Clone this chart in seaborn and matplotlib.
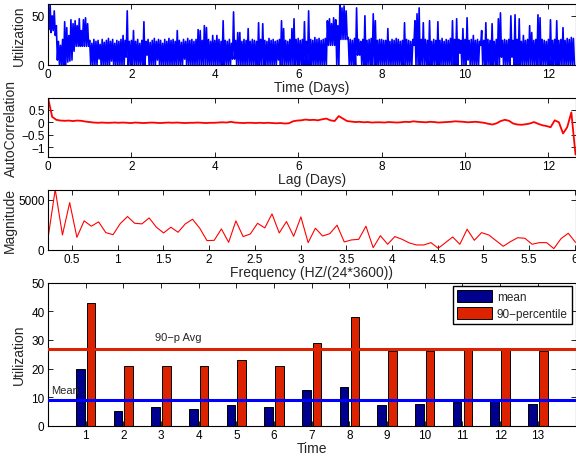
import numpy as np
import pandas as pd
import matplotlib
matplotlib.use('Agg')
import matplotlib.pyplot as plt
import seaborn as sns

# utilization trace: peak / floor reading per 0.05-day column
util_peak = [58, 62, 50, 55, 40, 24, 20, 26, 44, 38, 30, 46, 42, 45, 40, 47, 35, 46, 48, 42,
             25, 22, 26, 24, 25, 21, 26, 23, 25, 27, 24, 26, 22, 25, 24, 26, 30, 25, 55, 24,
             25, 35, 24, 26, 22, 25, 44, 24, 26, 23, 25, 27, 24, 26, 25, 22, 26, 24, 27, 25,
             26, 24, 35, 25, 23, 26, 24, 27, 25, 26, 24, 26, 36, 35, 25, 40, 38, 26, 24, 30,
             25, 30, 26, 24, 45, 25, 24, 26, 22, 54, 25, 33, 33, 24, 26, 25, 37, 24, 26, 25,
             24, 43, 26, 42, 25, 24, 27, 25, 26, 24, 25, 26, 45, 37, 25, 24, 26, 37, 47, 26,
             27, 25, 26, 44, 24, 55, 26, 25, 28, 26, 27, 25, 26, 27, 45, 47, 42, 48, 46, 40,
             62, 58, 60, 55, 28, 26, 25, 27, 58, 26, 24, 26, 50, 25, 26, 27, 52, 45, 25, 26,
             26, 25, 25, 37, 24, 26, 25, 27, 26, 24, 25, 43, 26, 25, 24, 26, 45, 52, 58, 26,
             43, 26, 25, 45, 24, 26, 25, 44, 25, 27, 24, 26, 25, 27, 45, 26, 47, 26, 25, 37,
             26, 48, 25, 26, 30, 25, 26, 24, 35, 25, 43, 26, 25, 42, 24, 26, 47, 53, 25, 26,
             25, 26, 50, 25, 51, 26, 47, 24, 30, 25, 26, 40, 33, 25, 26, 51, 48, 26, 25, 24,
             26, 46, 25, 26, 45, 25, 26, 38, 25, 27, 26, 28, 27]
util_floor = [36, 33, 35, 30, 5, 0, 0, 0, 0, 3, 4, 5, 14, 19, 19, 19, 19, 19, 19, 19,
              0, 0, 0, 0, 6, 0, 0, 0, 0, 0, 4, 0, 0, 0, 0, 0, 0, 8, 0, 0,
              0, 0, 0, 0, 0, 0, 0, 10, 0, 0, 0, 0, 5, 0, 0, 0, 0, 0, 0, 0,
              0, 0, 0, 0, 0, 6, 0, 0, 0, 0, 0, 0, 0, 0, 0, 0, 0, 0, 0, 0,
              0, 0, 0, 0, 0, 0, 0, 0, 6, 6, 0, 0, 0, 0, 0, 0, 0, 0, 0, 0,
              0, 0, 0, 0, 0, 0, 0, 0, 0, 0, 5, 0, 0, 0, 0, 0, 0, 0, 0, 0,
              0, 0, 0, 0, 0, 0, 0, 0, 0, 0, 0, 0, 0, 0, 20, 20, 20, 20, 0, 0,
              26, 26, 26, 26, 0, 0, 0, 0, 10, 10, 0, 0, 0, 0, 0, 0, 0, 0, 0, 0,
              0, 0, 0, 0, 0, 0, 0, 0, 0, 0, 0, 0, 0, 0, 0, 20, 0, 0, 0, 0,
              0, 0, 0, 0, 0, 0, 0, 0, 0, 0, 0, 0, 0, 0, 0, 0, 0, 12, 0, 0,
              0, 5, 0, 0, 0, 0, 0, 20, 0, 0, 0, 0, 0, 0, 0, 0, 0, 8, 0, 0,
              0, 0, 8, 0, 0, 0, 0, 0, 0, 0, 0, 0, 0, 0, 0, 0, 0, 0, 0, 0,
              0, 0, 0, 0, 0, 0, 0, 0, 0, 0, 0, 0, 0]

# autocorrelation, lag 0 .. 12.65 days
acf_vals = [1.0, 0.22, 0.10, 0.07, 0.06, 0.07, 0.05, 0.07, 0.06, 0.03,
            0.01, -0.01, -0.02, -0.01, -0.02, -0.02, -0.01, -0.02, -0.01, -0.02,
            -0.03, -0.01, -0.02, -0.03, -0.02, -0.01, -0.02, -0.03, -0.02, -0.01,
            -0.02, -0.01, -0.02, -0.03, -0.02, -0.02, -0.01, -0.02, -0.03, -0.02,
            -0.02, -0.01, 0.0, -0.01, 0.02, -0.01, -0.02, -0.03, -0.02, -0.02,
            -0.03, -0.02, -0.03, -0.02, -0.03, -0.04, -0.03, -0.05, -0.04, 0.04,
            0.07, 0.08, 0.11, 0.09, 0.10, 0.08, 0.12, 0.15, 0.08, 0.05,
            0.25, 0.15, 0.05, 0.03, 0.01, 0.02, 0.0, 0.01, -0.01, 0.0,
            0.0, -0.01, 0.01, 0.0, -0.01, 0.0, 0.02, 0.01, 0.04, 0.02,
            0.01, 0.0, 0.02, 0.01, -0.01, 0.0, 0.01, 0.02, 0.04, 0.03,
            0.02, 0.0, 0.01, 0.02, 0.0, -0.02, -0.06, -0.09, -0.04, 0.05,
            0.10, 0.06, -0.05, -0.09, -0.10, -0.08, -0.05, 0.01, -0.06, -0.12,
            -0.15, -0.20, 0.08, 0.0, -0.45, -0.20, 0.40, -1.3]

# spectrum magnitude, bins k = 3..76 of a 12.65-day record
spec_mag = [1160, 6000, 1490, 4700, 1260, 2890, 2360, 2790, 1720, 1520, 2620, 3320,
            2650, 2590, 3180, 2260, 1690, 2260, 1760, 2590, 3050, 2160, 930, 960,
            2090, 760, 2890, 1330, 1590, 2650, 2190, 3580, 1690, 2820, 1360, 3280,
            730, 2160, 1390, 1620, 2460, 800, 1000, 1060, 2360, 230, 1420, 570,
            1330, 1060, 700, 500, 500, 730, 170, 730, 1290, 570, 2060, 960,
            1720, 1490, 930, 370, 830, 1220, 1160, 570, 730, 730, 140, 1130, 1660, 760]

slots = list(range(1, 14))
mean_util = [20.0, 5.3, 6.5, 5.8, 7.2, 6.7, 12.4, 13.7, 7.4, 7.7, 8.4, 9.0, 7.7]
p90_util = [43, 21, 21, 21, 23, 21, 29, 38, 26, 26, 27, 27, 26]

n_days = 12.65
MINUS = '\u2212'

sns.set_style('ticks')
plt.rcParams['font.family'] = ['Liberation Sans', 'DejaVu Sans']
plt.rcParams['axes.linewidth'] = 0.8

fig = plt.figure(figsize=(5.76, 4.64), dpi=100)
W, H = 576, 464


def box(left, top, right, bottom):
    return fig.add_axes([left / W, 1 - bottom / H, (right - left) / W, (bottom - top) / H])


def style(ax):
    ax.tick_params(direction='in', top=True, right=True, length=3.5, width=0.6,
                   labelsize=8.5, pad=2.5, colors='black')
    for s in ax.spines.values():
        s.set_color('black')


# --- utilization trace
ax1 = box(48, 5, 575.5, 66)
col = np.arange(len(util_peak)) * 0.05
t = np.column_stack([col, col + 0.025]).ravel()
u = np.column_stack([util_peak, util_floor]).ravel()
sns.lineplot(x=t, y=u, ax=ax1, color='#0000FF', linewidth=1.2, estimator=None, sort=False)
ax1.set_xlim(0, n_days)
ax1.set_ylim(0, 62)
ax1.set_xticks(range(0, 13, 2))
ax1.set_yticks([0, 50])
ax1.set_xlabel('Time (Days)', fontsize=10, labelpad=0)
ax1.set_ylabel('Utilization', fontsize=10, labelpad=4)
style(ax1)

# --- autocorrelation
ax2 = box(48, 98.5, 575.5, 158)
lag = np.linspace(0, n_days, len(acf_vals))
sns.lineplot(x=lag, y=acf_vals, ax=ax2, color='#FF0000', linewidth=1.3, estimator=None, sort=False)
ax2.set_xlim(0, n_days)
ax2.set_ylim(-1.4, 1.0)
ax2.set_xticks(range(0, 13, 2))
ax2.set_yticks([-1, -0.5, 0, 0.5])
ax2.set_yticklabels([MINUS + '1', MINUS + '0.5', '0', '0.5'])
ax2.set_xlabel('Lag (Days)', fontsize=10, labelpad=0)
ax2.set_ylabel('AutoCorrelation', fontsize=10, labelpad=2)
style(ax2)

# --- spectrum
ax3 = box(48, 190.5, 575.5, 251)
freq = np.arange(3, 3 + len(spec_mag)) / n_days
sns.lineplot(x=freq, y=spec_mag, ax=ax3, color='#FF0000', linewidth=0.8, estimator=None, sort=False)
ax3.set_xlim(freq[0], freq[-1])
ax3.set_ylim(0, 6000)
ax3.set_xticks(np.arange(0.5, 6.01, 0.5))
ax3.set_xticklabels(['0.5', '1', '1.5', '2', '2.5', '3', '3.5', '4', '4.5', '5', '5.5', '6'])
ax3.set_yticks([0, 5000])
ax3.set_xlabel('Frequency (HZ/(24*3600))', fontsize=10, labelpad=0)
ax3.set_ylabel('Magnitude', fontsize=10, labelpad=0.5)
style(ax3)

# --- hourly mean / 90-percentile bars
ax4 = box(48, 283.5, 575.5, 427)
p90_name = '90' + MINUS + 'percentile'
df = pd.DataFrame({
    'Time': slots * 2,
    'Utilization': mean_util + p90_util,
    'stat': ['mean'] * 13 + [p90_name] * 13,
})
sns.barplot(data=df, x='Time', y='Utilization', hue='stat', hue_order=['mean', p90_name],
            palette={'mean': '#00008F', p90_name: '#DD2200'}, native_scale=True,
            width=0.571, gap=0.2, edgecolor='black', linewidth=0.7, ax=ax4,
            errorbar=None, saturation=1)
ax4.axhline(np.mean(p90_util), color='#DD2200', linewidth=2.2, zorder=5)
ax4.axhline(np.mean(mean_util), color='#0000FF', linewidth=2.2, zorder=5)
ax4.text(2.85, 31, '90' + MINUS + 'p Avg', fontsize=8, va='center', ha='left')
ax4.text(0.07, 12.7, 'Mean', fontsize=8, va='center', ha='left')
ax4.set_xlim(0, 14)
ax4.set_ylim(0, 50)
ax4.set_xticks(slots)
ax4.set_yticks(range(0, 51, 10))
ax4.set_xlabel('Time', fontsize=10, labelpad=0)
ax4.set_ylabel('Utilization', fontsize=10, labelpad=4)
handles, labels = ax4.get_legend_handles_labels()
ax4.legend(handles, labels, loc='upper right', fontsize=8.5, frameon=True, fancybox=False,
           edgecolor='black', framealpha=1, borderaxespad=0.3, handlelength=3.0,
           handleheight=1.2, borderpad=0.35, labelspacing=0.3, handletextpad=0.4)
style(ax4)

fig.savefig('out.png', dpi=100)
